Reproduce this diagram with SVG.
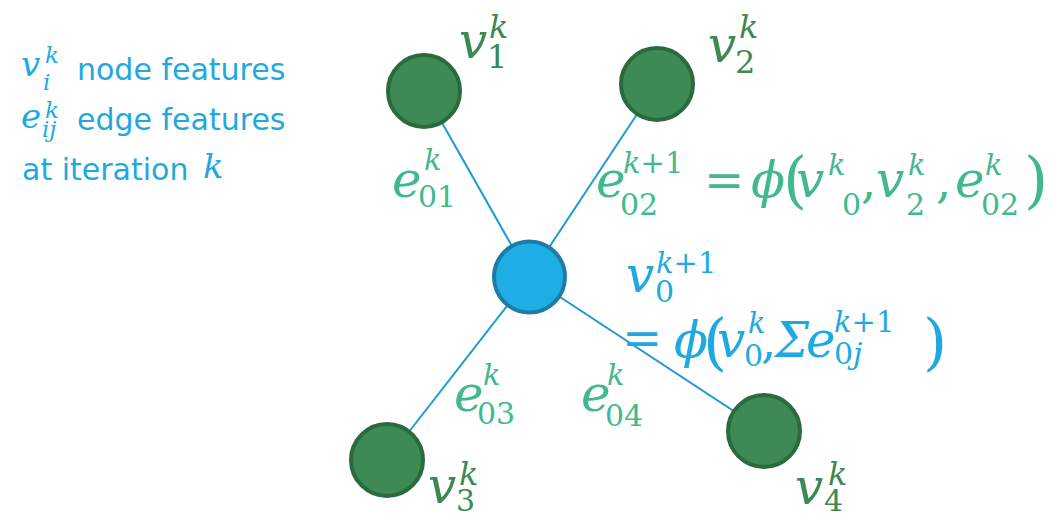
<svg xmlns="http://www.w3.org/2000/svg" width="1052" height="517" viewBox="0 0 1052 517">
<style>
.mi{font-family:"DejaVu Serif","Liberation Serif",serif;font-style:italic}
.mn{font-family:"DejaVu Serif","Liberation Serif",serif;font-style:normal}
.sans{font-family:"DejaVu Sans","Liberation Sans",sans-serif}
.blue{fill:#1fa9e1}
.eg{fill:#42b98c}
.ng{fill:#3b8a52}
.edge{stroke:#1e9ad6;stroke-width:2;fill:none}
.gnode{fill:#3d8a55;stroke:#2a6a3c;stroke-width:4}
.bnode{fill:#1eade4;stroke:#1b7da6;stroke-width:4}
</style>
<g id="legend" class="blue">
  <text class="mi" x="21" y="76" font-size="34">v</text>
  <text class="mi" x="45" y="63" font-size="23">k</text>
  <text class="mi" x="43" y="90" font-size="23">i</text>
  <text class="sans" x="77" y="80" font-size="30">node features</text>
  <text class="mi" x="21" y="128" font-size="34">e</text>
  <text class="mi" x="45" y="118" font-size="23">k</text>
  <text class="mi" x="42" y="137" font-size="23">ij</text>
  <text class="sans" x="77" y="130" font-size="30">edge features</text>
  <text class="sans" x="22" y="180" font-size="30">at iteration</text>
  <text class="mi" x="203" y="178" font-size="34">k</text>
</g>
<g id="connectors">
  <line class="edge" x1="424" y1="91" x2="529.5" y2="277"/>
  <line class="edge" x1="657" y1="84" x2="529.5" y2="277"/>
  <line class="edge" x1="387" y1="460" x2="529.5" y2="277"/>
  <line class="edge" x1="764" y1="431" x2="529.5" y2="277"/>
  <g id="label-e01" class="eg">
    <text class="mi" x="392" y="197" font-size="50">e</text>
    <text class="mi" x="424" y="170" font-size="29">k</text>
    <text class="mn" x="418" y="207" font-size="30">01</text>
  </g>
  <g id="label-e02" class="eg">
    <text class="mi" x="596" y="197" font-size="50">e</text>
    <text class="mi" x="623" y="173" font-size="29">k<tspan class="mn">+1</tspan></text>
    <text class="mn" x="620" y="215" font-size="30">02</text>
    <text class="mn" x="704" y="197" font-size="48">=</text>
    <text class="mi" x="751" y="197" font-size="50">ϕ</text>
    <text class="mn" x="783" y="201" font-size="62">(</text>
    <text class="mi" x="796" y="197" font-size="50">v</text>
    <text class="mi" x="828" y="175" font-size="29">k</text>
    <text class="mn" x="842" y="215" font-size="30">0</text>
    <text class="mn" x="861" y="197" font-size="48">,</text>
    <text class="mi" x="876" y="197" font-size="50">v</text>
    <text class="mi" x="908" y="175" font-size="29">k</text>
    <text class="mn" x="906" y="215" font-size="30">2</text>
    <text class="mn" x="936" y="197" font-size="48">,</text>
    <text class="mi" x="955" y="197" font-size="50">e</text>
    <text class="mi" x="985" y="175" font-size="29">k</text>
    <text class="mn" x="981" y="215" font-size="30">02</text>
    <text class="mn" x="1024" y="201" font-size="62">)</text>
  </g>
  <g id="label-e03" class="eg">
    <text class="mi" x="454" y="411" font-size="50">e</text>
    <text class="mi" x="483" y="385" font-size="29">k</text>
    <text class="mn" x="477" y="424" font-size="30">03</text>
  </g>
  <g id="label-e04" class="eg">
    <text class="mi" x="581" y="411" font-size="50">e</text>
    <text class="mi" x="607" y="385" font-size="29">k</text>
    <text class="mn" x="605" y="426" font-size="30">04</text>
  </g>
</g>
<g id="node-v1">
  <circle class="gnode" cx="424" cy="91" r="36"/>
  <g class="ng">
    <text class="mi" x="459" y="58" font-size="50">v</text>
    <text class="mi" x="489" y="38" font-size="32">k</text>
    <text class="mn" x="487" y="68" font-size="32">1</text>
  </g>
</g>
<g id="node-v2">
  <circle class="gnode" cx="657" cy="84" r="36"/>
  <g class="ng">
    <text class="mi" x="708" y="62" font-size="50">v</text>
    <text class="mi" x="739" y="38" font-size="32">k</text>
    <text class="mn" x="735" y="73" font-size="32">2</text>
  </g>
</g>
<g id="node-v0">
  <circle class="bnode" cx="529.5" cy="277" r="35.5"/>
  <g class="blue">
    <text class="mi" x="626" y="292" font-size="50">v</text>
    <text class="mi" x="656" y="273" font-size="29">k<tspan class="mn">+1</tspan></text>
    <text class="mn" x="655" y="302" font-size="30">0</text>
    <text class="mn" x="622" y="355" font-size="48">=</text>
    <text class="mi" x="674" y="357" font-size="50">ϕ</text>
    <text class="mn" x="703" y="363" font-size="62">(</text>
    <text class="mi" x="717" y="357" font-size="50">v</text>
    <text class="mi" x="748" y="333" font-size="29">k</text>
    <text class="mn" x="744" y="366" font-size="30">0</text>
    <text class="mn" x="761" y="357" font-size="48">,</text>
    <text class="mi" x="775" y="357" font-size="48">Σ</text>
    <text class="mi" x="806" y="357" font-size="50">e</text>
    <text class="mi" x="834" y="332" font-size="29">k<tspan class="mn">+1</tspan></text>
    <text class="mn" x="834" y="364" font-size="30">0<tspan class="mi">j</tspan></text>
    <text class="mn" x="923" y="363" font-size="62">)</text>
  </g>
</g>
<g id="node-v3">
  <circle class="gnode" cx="387" cy="460" r="36"/>
  <g class="ng">
    <text class="mi" x="428" y="503" font-size="50">v</text>
    <text class="mi" x="459" y="485" font-size="32">k</text>
    <text class="mn" x="456" y="511" font-size="30">3</text>
  </g>
</g>
<g id="node-v4">
  <circle class="gnode" cx="764" cy="431" r="36"/>
  <g class="ng">
    <text class="mi" x="795" y="504" font-size="50">v</text>
    <text class="mi" x="828" y="485" font-size="32">k</text>
    <text class="mn" x="824" y="511" font-size="30">4</text>
  </g>
</g>
</svg>
